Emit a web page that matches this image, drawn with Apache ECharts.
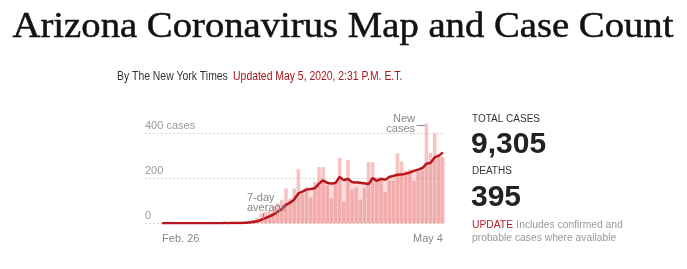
<!DOCTYPE html>
<html><head><meta charset="utf-8">
<script src="https://cdn.jsdelivr.net/npm/echarts@6/dist/echarts.min.js"></script>
<style>html,body{margin:0;padding:0;background:#fff}#c{width:687px;height:269px}</style>
</head><body><div id="c"></div>
<script>
// Daily new cases, Feb 26 .. May 4, 2020 (69 days)
const startDate = [2020, 1, 26];
const dayCount = 69;
const newCases = [0,0,0,0,1,0,0,0,0,1,0,0,0,3,0,2,0,1,0,
  5,7,9,17,25,44,52,59,74,89,105,
  155,110,155,240,130,160,115,185,250,250,
  170,111,180,291,96,281,150,160,106,160,
  272,272,205,205,140,190,190,311,275,235,
  240,190,230,235,444,312,400,293,293];
// 7-day average
const avg7 = [0,0,0,0,0.1,0.1,0.1,0.1,0.1,0.3,0.3,0.1,0.1,0.6,0.6,0.9,0.7,0.9,0.9,
  1.6,2.1,3.4,5.6,9.1,15.3,22.7,30.4,40,51.4,64,
  82.6,92,106.7,132.6,140.6,150.7,152.1,156.4,176.4,190,
  180,177.3,180.1,205.3,192.6,197,182.7,181.3,180.6,177.7,
  175,200.1,189.3,197.1,194.3,206.3,210.6,216.1,216.6,220.9,
  225.9,233,238.7,245.1,264.1,269.4,293,300.6,315.3];
const yTicks = [0, 200, 400];
const xTickLabels = ['Feb. 26', 'May 4'];
const totalCases = '9,305';
const deaths = '395';

const months = ['Jan.','Feb.','March','April','May'];
const categories = [];
for (let i = 0; i < dayCount; i++) {
  const d = new Date(startDate[0], startDate[1], startDate[2] + i);
  categories.push(months[d.getMonth()] + ' ' + d.getDate());
}

const SANS = "'Liberation Sans', Arial, sans-serif";
const SERIF = "'Liberation Serif', 'DejaVu Serif', serif";

const chart = echarts.init(document.getElementById('c'), null, {renderer: 'canvas'});
chart.setOption({
  animation: false,
  backgroundColor: '#fff',
  grid: [
    {left: 145, right: 242, top: 133.3, bottom: 269 - 223.3},
    {left: 160, right: 242, top: 223.3 - 103.5, bottom: 269 - 223.3}
  ],
  xAxis: [
    {gridIndex: 0, type: 'value', show: false, min: 0, max: 1},
    {gridIndex: 1, type: 'category', data: categories, boundaryGap: true,
     axisLine: {show: false}, axisTick: {show: false},
     axisLabel: {
       interval: function (i) { return i === 0 || i === dayCount - 1; },
       formatter: function (v, i) { return i === 0 ? xTickLabels[0] : xTickLabels[1]; },
       alignMinLabel: 'left', alignMaxLabel: 'right',
       color: '#888', fontFamily: SANS, fontSize: 11, margin: 10
     }}
  ],
  yAxis: [
    {gridIndex: 0, type: 'value', min: yTicks[0], max: yTicks[2], interval: yTicks[1] - yTicks[0],
     axisLine: {show: false}, axisTick: {show: false},
     splitLine: {show: true, lineStyle: {color: '#d8d8d8', type: [2, 2], width: 1}},
     axisLabel: {inside: true, margin: 0, verticalAlign: 'bottom', padding: [0, 0, 2, 0],
       color: '#999', fontFamily: SANS, fontSize: 11,
       formatter: function (v) { return v === yTicks[2] ? v + ' cases' : String(v); }}},
    {gridIndex: 1, type: 'value', min: 0, max: 460, show: false, splitLine: {show: false}}
  ],
  series: [{
    type: 'bar', xAxisIndex: 1, yAxisIndex: 1, data: newCases,
    barCategoryGap: '14%',
    itemStyle: {color: 'rgba(232,90,90,0.36)'},
    z: 2
  }, {
    type: 'line', xAxisIndex: 1, yAxisIndex: 1, data: avg7,
    symbol: 'none', smooth: 0.15,
    lineStyle: {color: '#b8161c', width: 2.5},
    areaStyle: {color: 'rgba(232,90,90,0.30)'},
    z: 3
  }],
  graphic: [
    {type: 'text', x: 343, y: 28, scaleX: 1.09,
     style: {text: 'Arizona Coronavirus Map and Case Count', x: 0, y: 0, fill: '#121212',
       font: '35.5px ' + SERIF, textAlign: 'center', textVerticalAlign: 'middle',
       stroke: '#121212', lineWidth: 0.5}},
    {type: 'text', x: 117, y: 76, scaleX: 0.8,
     style: {text: '{a|By The New York Times}  {b|Updated May 5, 2020, 2:31 P.M. E.T.}', x: 0, y: 0,
       textVerticalAlign: 'middle',
       rich: {
         a: {fill: '#333', fontFamily: SANS, fontSize: 13, fontWeight: 'normal'},
         b: {fill: '#a5181d', fontFamily: SANS, fontSize: 13, fontWeight: 'normal'}
       }}},

    {type: 'text', style: {text: '7-day', x: 247, y: 197.5, fill: '#888', font: '11px ' + SANS, textVerticalAlign: 'middle'}, z: 10},
    {type: 'text', style: {text: 'average', x: 247, y: 207.5, fill: '#888', font: '11px ' + SANS, textVerticalAlign: 'middle'}, z: 10},
    {type: 'line', shape: {x1: 263.5, y1: 213, x2: 263.5, y2: 219}, style: {stroke: '#888', lineWidth: 1}, z: 10},
    {type: 'text', style: {text: 'New', x: 415, y: 119, fill: '#888', font: '11px ' + SANS, textAlign: 'right', textVerticalAlign: 'middle'}, z: 10},
    {type: 'text', style: {text: 'cases', x: 415, y: 129, fill: '#888', font: '11px ' + SANS, textAlign: 'right', textVerticalAlign: 'middle'}, z: 10},
    {type: 'line', shape: {x1: 416.5, y1: 125.5, x2: 425, y2: 125.5}, style: {stroke: '#888', lineWidth: 1}, z: 10},

    {type: 'text', style: {text: 'TOTAL CASES', x: 472, y: 119, fill: '#333', font: '10px ' + SANS, textVerticalAlign: 'middle'}},
    {type: 'text', style: {text: totalCases, x: 471, y: 145, fill: '#222', font: 'bold 30px ' + SANS, textVerticalAlign: 'middle'}},
    {type: 'text', style: {text: 'DEATHS', x: 472, y: 171.5, fill: '#333', font: '10px ' + SANS, textVerticalAlign: 'middle'}},
    {type: 'text', style: {text: deaths, x: 471, y: 197.5, fill: '#222', font: 'bold 30px ' + SANS, textVerticalAlign: 'middle'}},
    {type: 'text', style: {
      text: '{r|UPDATE} {g|Includes confirmed and}\n{g|probable cases where available}',
      x: 472, y: 219, textVerticalAlign: 'top',
      rich: {
        r: {fill: '#b81f24', fontFamily: SANS, fontSize: 10.3, lineHeight: 12.5},
        g: {fill: '#999', fontFamily: SANS, fontSize: 10.3, lineHeight: 12.5}
      }}}
  ]
});
</script></body></html>
